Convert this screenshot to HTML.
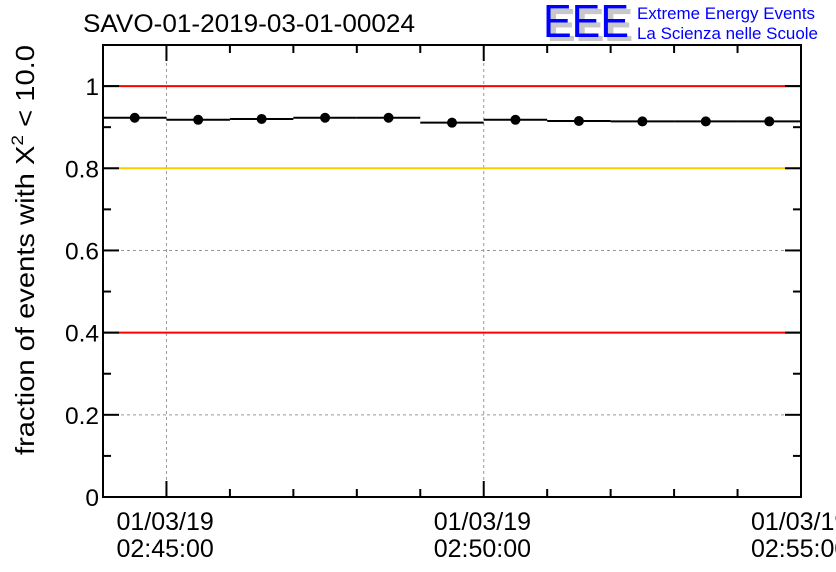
<!DOCTYPE html>
<html><head><meta charset="utf-8"><style>body{margin:0;background:#fff;overflow:hidden}svg{display:block}</style></head>
<body>
<svg id="chart" width="836" height="572" xmlns="http://www.w3.org/2000/svg" font-family="Liberation Sans, sans-serif">
<text x="83" y="32" font-size="25" textLength="332" lengthAdjust="spacingAndGlyphs">SAVO-01-2019-03-01-00024</text>
<g>
<text x="547" y="41" font-size="46" fill="#c8c8c8" font-weight="bold" textLength="86" lengthAdjust="spacingAndGlyphs">EEE</text>
<text x="543" y="37" font-size="46" fill="#0000ff" textLength="86" lengthAdjust="spacingAndGlyphs">EEE</text>
<text x="637" y="19" font-size="16.5" fill="#0000ff" textLength="178" lengthAdjust="spacingAndGlyphs">Extreme Energy Events</text>
<text x="637" y="39" font-size="16.5" fill="#0000ff" textLength="181" lengthAdjust="spacingAndGlyphs">La Scienza nelle Scuole</text>
</g>
<text transform="translate(34,455) rotate(-90)" font-size="26" textLength="410" lengthAdjust="spacingAndGlyphs">fraction of events with X<tspan font-size="17" dy="-11">2</tspan><tspan dy="11"> &lt; 10.0</tspan></text>
<g id="plot"></g>
</svg>
<script>
const minutes = [0,1,2,3,4,5,6,7,8,9,10];
const values = [0.923,0.918,0.920,0.923,0.923,0.911,0.918,0.915,0.914,0.914,0.914];
const yTicks = [0,0.2,0.4,0.6,0.8,1];
const yTickLabels = ["0","0.2","0.4","0.6","0.8","1"];
const xMajor = [1,6,11];
const xLabelsDate = ["01/03/19","01/03/19","01/03/19"];
const xLabelsTime = ["02:45:00","02:50:00","02:55:00"];
const refLines = [{v:1,c:"#ff0000"},{v:0.8,c:"#ffcc00"},{v:0.4,c:"#ff0000"}];

const L=103,R=801,T=45,B=497;
const X=m=>L+(R-L)*m/11;
const Y=v=>B-(B-T)*v/1.1;
const ns="http://www.w3.org/2000/svg";
const g=document.getElementById('plot');
function el(t,a,p){const e=document.createElementNS(ns,t);for(const k in a)e.setAttribute(k,a[k]);(p||g).appendChild(e);return e;}

[0.2,0.6].forEach(v=>{const e=el('line',{x1:L,x2:R,y1:Y(v),y2:Y(v),stroke:'#999','stroke-dasharray':'3,3','stroke-width':1});

});
xMajor.slice(0,2).forEach(m=>{const e=el('line',{x1:X(m),x2:X(m),y1:T,y2:B,stroke:'#999','stroke-dasharray':'3,3','stroke-width':1});

});
refLines.forEach(r=>{const e=el('line',{x1:L,x2:R,y1:Y(r.v),y2:Y(r.v),stroke:r.c,'stroke-width':2});

});
const fr=el('rect',{x:L,y:T,width:R-L,height:B-T,fill:'none',stroke:'#000','stroke-width':2});


for(let i=0;i<=11;i++){const v=i/10;const len=(i%2==0)?16:8;
el('line',{x1:L,x2:L+len,y1:Y(v),y2:Y(v),stroke:'#000','stroke-width':2});
el('line',{x1:R,x2:R-len,y1:Y(v),y2:Y(v),stroke:'#000','stroke-width':2});}
yTicks.forEach((v,i)=>{const t=el('text',{x:L-4,y:Y(v)+9,'text-anchor':'end','font-size':24.5});t.textContent=yTickLabels[i];

});
for(let m=0;m<=11;m++){const len=((m-1)%5==0)?16:8;
el('line',{x1:X(m),x2:X(m),y1:B,y2:B-len,stroke:'#000','stroke-width':2});
el('line',{x1:X(m),x2:X(m),y1:T,y2:T+len,stroke:'#000','stroke-width':2});}
xMajor.forEach((m,i)=>{const t=el('text',{x:X(m)-50,y:530,'font-size':25});t.textContent=xLabelsDate[i];


const t2=el('text',{x:X(m)-50,y:557,'font-size':25});t2.textContent=xLabelsTime[i];

});
minutes.forEach((m,i)=>{
const h=el('line',{x1:X(m),x2:X(m+1),y1:Y(values[i]),y2:Y(values[i]),stroke:'#000','stroke-width':2});


const c=el('circle',{cx:X(m+0.5),cy:Y(values[i]),r:5,fill:'#000'});


});
</script>
</body></html>
